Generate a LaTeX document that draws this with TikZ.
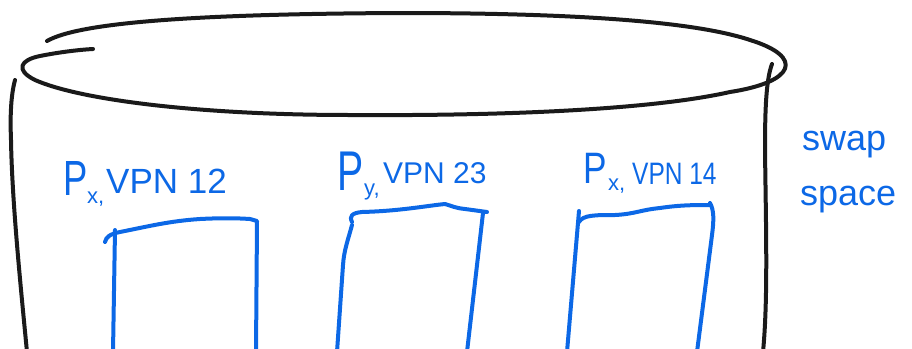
\documentclass[tikz,border=0pt]{standalone}
\usepackage{fontspec}
\setmainfont{Liberation Sans}
\definecolor{penblue}{RGB}{12,104,230}
\definecolor{penblack}{RGB}{26,26,26}
\tikzset{
  ink/.style={draw=penblack, line width=4pt, line cap=round, line join=round},
  bluepen/.style={draw=penblue, line width=4pt, line cap=round, line join=round},
  hand/.style={text=penblue, inner sep=0pt, anchor=base west},
}
\newcommand{\fs}[1]{\fontsize{#1}{#1}\selectfont}
\begin{document}
\begin{tikzpicture}[x=1pt, y=-1pt]
\useasboundingbox (0,0) rectangle (912,348);

% cylinder rim (one stroke, ends overlap at the left)
\draw[ink] (47,41) .. controls (80,22) and (200,14) .. (400,13)
  .. controls (560,13) and (690,20) .. (750,40)
  .. controls (805,57) and (795,82) .. (730,92)
  .. controls (650,110) and (500,116) .. (350,115)
  .. controls (200,115) and (80,100) .. (35,80)
  .. controls (15,70) and (20,60) .. (40,56)
  .. controls (55,53) and (75,50) .. (93,49);

% cylinder walls
\coordinate (lwTop) at (15,80);
\coordinate (lwBot) at (27,352);
\coordinate (rwTop) at (772,64);
\coordinate (rwBot) at (763,352);
\draw[ink] (lwTop) .. controls (11,95) and (10,115) .. (11,140)
  .. controls (12,200) and (20,280) .. (lwBot);
\draw[ink] (rwTop) .. controls (766,80) and (765,110) .. (765,150)
  .. controls (766,230) and (768,300) .. (rwBot);

% page 1
\draw[bluepen] (115,230) -- (113,352);
\draw[bluepen] (105,242) .. controls (106,237) and (110,234) .. (120,232)
  .. controls (150,226) and (170,221) .. (200,219)
  .. controls (220,218) and (235,218) .. (250,219) -- (257,221) -- (256,352);

% page 2
\draw[bluepen] (352,225) .. controls (348,240) and (344,250) .. (343,265) -- (337,352);
\draw[bluepen] (352,222) .. controls (349,216) and (352,213) .. (362,212)
  .. controls (400,211) and (425,206) .. (445,204)
  .. controls (452,206) and (455,208) .. (465,209) -- (487,212);
\draw[bluepen] (483,213) -- (467,352);

% page 3
\draw[bluepen] (579,211) -- (567,352);
\draw[bluepen] (579,222) .. controls (583,215) and (595,215) .. (615,215)
  .. controls (635,214) and (640,210) .. (660,208)
  .. controls (680,205) and (695,205) .. (710,205);
\draw[bluepen] (710,203) .. controls (714,210) and (714,220) .. (712,235) -- (697,352);

% labels
\node[hand] (p1) at (63,195) {\fs{52}\scalebox{0.7}[0.95]{P}};
\node[hand] (s1) at (87,203) {\fs{22}x,};
\node[hand] (v1) at (106,193) {\fs{35}VPN 12};

\node[hand] (p2) at (337,190) {\fs{56}\scalebox{0.7}[1]{P}};
\node[hand] (s2) at (364,195) {\fs{22}y,};
\node[hand] (v2) at (383,183) {\fs{30}VPN 23};

\node[hand] (p3) at (583,183) {\fs{44}\scalebox{0.8}[1]{P}};
\node[hand] (s3) at (608,190) {\fs{22}x,};
\node[hand] (v3) at (632,184) {\fs{31}\scalebox{0.79}[1]{VPN 14}};

\node[hand] (sw1) at (802,150) {\fs{36}swap};
\node[hand] (sw2) at (800,205) {\fs{36}space};
\end{tikzpicture}
\end{document}
